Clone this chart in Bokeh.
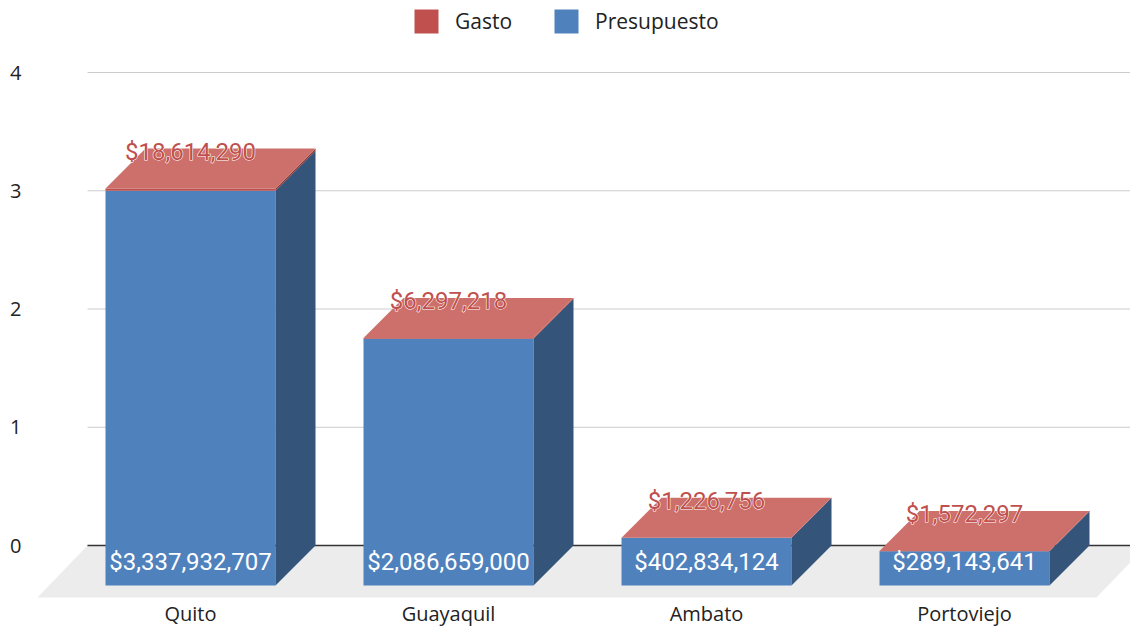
from bokeh.plotting import figure
from bokeh.models import Range1d, Legend, LegendItem, FixedTicker
from bokeh.core.properties import value
from bokeh.embed import file_html
from bokeh.resources import INLINE

# ---------------- data ----------------
cities = ["Quito", "Guayaquil", "Ambato", "Portoviejo"]
presupuesto = [3337932707, 2086659000, 402834124, 289143641]
gasto = [18614290, 6297218, 1226756, 1572297]
y_ticks = [0, 1, 2, 3, 4]
UNIT = 1e9  # axis unit (billions)

# ---------------- geometry (screen px -> data units) ----------------
PX_X = 258.0      # px per category step
PX_Y = 118.25     # px per axis unit
HALF_W = 85 / PX_X
DX = 40 / PX_X    # 3D depth, x
DY = 40 / PX_Y    # 3D depth, y
FLOOR_LEFT = (87 - 190) / PX_X
FLOOR_RIGHT = (1146 - 190) / PX_X
FLOOR_DX = 50 / PX_X
FLOOR_DY = 52 / PX_Y

# colours
BLUE_FRONT = "#4f81bd"
BLUE_SIDE = "#34547a"
RED_FRONT = "#c0504d"
RED_SIDE = "#8c3a38"
RED_TOP = "#cd6f6a"

W, H = 1130, 627
FRAME_LEFT = 30
p = figure(width=W, height=H, output_backend="svg", toolbar_location=None,
           x_axis_location=None,
           x_range=Range1d((FRAME_LEFT - 190) / PX_X, (W - 190) / PX_X),
           y_range=Range1d((545 - H) / PX_Y, 545 / PX_Y),
           min_border_left=FRAME_LEFT, min_border_right=0,
           min_border_top=0, min_border_bottom=0)
p.outline_line_color = None
p.grid.visible = False
p.background_fill_color = "white"

# floor
p.patch([FLOOR_LEFT, FLOOR_RIGHT, FLOOR_RIGHT - FLOOR_DX, FLOOR_LEFT - FLOOR_DX],
        [0, 0, -FLOOR_DY, -FLOOR_DY], fill_color="#ececec", line_color=None)

# gridlines (back wall)
grid_ticks = [t for t in y_ticks if t != 0]
p.segment(x0=[FLOOR_LEFT] * len(grid_ticks), y0=grid_ticks,
          x1=[FLOOR_RIGHT] * len(grid_ticks), y1=grid_ticks,
          line_color="#cccccc", line_width=1)
p.segment(x0=[FLOOR_LEFT], y0=[0], x1=[FLOOR_RIGHT], y1=[0],
          line_color="#333333", line_width=1.5)

# bars
idx = list(range(len(cities)))
bf_x, bf_y, bs_x, bs_y = [], [], [], []
rf_x, rf_y, rs_x, rs_y, rt_x, rt_y = [], [], [], [], [], []
tops = []
for i, (pv_, gv_) in enumerate(zip(presupuesto, gasto)):
    pv = pv_ / UNIT
    tv = (pv_ + gv_) / UNIT
    tops.append(tv)
    xl, xr = i - HALF_W, i + HALF_W
    bf_x.append([xl, xr, xr, xl]); bf_y.append([-DY, -DY, pv - DY, pv - DY])
    bs_x.append([xr, xr + DX, xr + DX, xr]); bs_y.append([-DY, 0, pv, pv - DY])
    rf_x.append([xl, xr, xr, xl]); rf_y.append([pv - DY, pv - DY, tv - DY, tv - DY])
    rs_x.append([xr, xr + DX, xr + DX, xr]); rs_y.append([pv - DY, pv, tv, tv - DY])
    rt_x.append([xl, xr, xr + DX, xl + DX]); rt_y.append([tv - DY, tv - DY, tv, tv])

r_blue = p.patches(bf_x, bf_y, fill_color=BLUE_FRONT, line_color=None)
p.patches(bs_x, bs_y, fill_color=BLUE_SIDE, line_color=None)
r_red = p.patches(rf_x, rf_y, fill_color=RED_FRONT, line_color=None)
p.patches(rs_x, rs_y, fill_color=RED_SIDE, line_color=None)
p.patches(rt_x, rt_y, fill_color=RED_TOP, line_color=None)

# data labels
pres_labels = [f"${v:,}" for v in presupuesto]
gasto_labels = [f"${v:,}" for v in gasto]
p.text(x=idx, y=[-DY] * len(idx), text=pres_labels, text_font=value("Roboto"),
       text_font_size="24px", text_color="white", text_align="center",
       text_baseline="middle", y_offset=-24)
# white halo under the red labels
p.text(x=idx, y=tops, text=gasto_labels, text_font=value("Roboto"),
       text_font_size="24px", text_color="white", text_outline_color="white",
       text_align="center", text_baseline="middle", y_offset=3)
p.text(x=idx, y=tops, text=gasto_labels, text_font=value("Roboto"),
       text_font_size="24px", text_color="#c0504d",
       text_align="center", text_baseline="middle", y_offset=3)

# category labels
p.text(x=idx, y=[-FLOOR_DY] * len(idx), text=cities, text_font=value("Open Sans"),
       text_font_size="20px", text_color="#222222", text_align="center",
       text_baseline="middle", y_offset=16)

# y axis
p.yaxis.ticker = FixedTicker(ticks=y_ticks)
p.yaxis.axis_line_color = None
p.yaxis.major_tick_line_color = None
p.yaxis.minor_tick_line_color = None
p.yaxis.major_label_standoff = 3
p.yaxis.major_label_text_font = "Open Sans"
p.yaxis.major_label_text_font_size = "20px"
p.yaxis.major_label_text_color = "#222222"

# legend (location = bottom-left corner, measured from the frame's bottom-left)
legend = Legend(items=[LegendItem(label="Gasto", renderers=[r_red]),
                       LegendItem(label="Presupuesto", renderers=[r_blue])],
                orientation="horizontal", location=(381, H - 36),
                padding=0, margin=0, spacing=39, label_standoff=14,
                glyph_width=30, glyph_height=30,
                label_text_font="Open Sans", label_text_font_size="21px",
                label_text_color="#222222", border_line_color=None,
                background_fill_alpha=0)
p.add_layout(legend, "center")

open("out.html", "w").write(file_html(p, INLINE))
